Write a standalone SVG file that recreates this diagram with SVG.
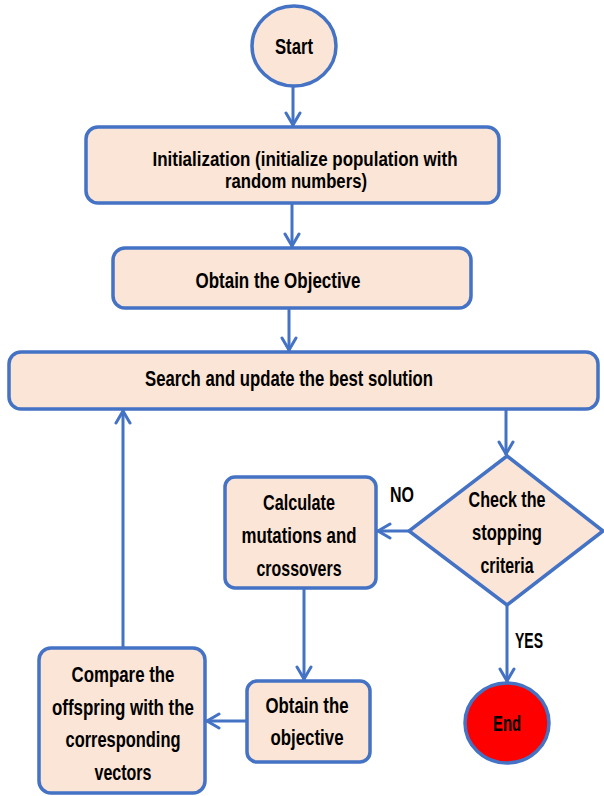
<svg xmlns="http://www.w3.org/2000/svg" width="604" height="796" viewBox="0 0 604 796">
<style>
.node{fill:#FBE5D6;stroke:#4472C4;stroke-width:3.5}
.end{fill:#FF0000;stroke:#4472C4;stroke-width:3.5}
.t{font-family:"Liberation Sans",Arial,sans-serif;font-weight:bold;font-size:22px;fill:#000;text-anchor:middle}
.s{font-size:20px}
.c{fill:none;stroke:#4472C4;stroke-width:3}
</style>
<defs>
<marker id="ah" viewBox="-16 -9 18 18" markerWidth="18" markerHeight="18" refX="0" refY="0" orient="auto" markerUnits="userSpaceOnUse">
<path d="M-13,-7 L-1,0 L-13,7" fill="none" stroke="#4472C4" stroke-width="3" stroke-linecap="round" stroke-linejoin="round"/>
</marker>
</defs>
<rect width="604" height="796" fill="#fff"/>
<g id="connectors">
<line class="c" x1="293" y1="86" x2="293" y2="126" marker-end="url(#ah)"/>
<line class="c" x1="292" y1="203" x2="292" y2="247" marker-end="url(#ah)"/>
<line class="c" x1="289" y1="308" x2="289" y2="351" marker-end="url(#ah)"/>
<line class="c" x1="506" y1="409" x2="506" y2="455" marker-end="url(#ah)"/>
<line class="c" x1="409" y1="531" x2="377" y2="531" marker-end="url(#ah)"/>
<line class="c" x1="304" y1="588" x2="304" y2="680" marker-end="url(#ah)"/>
<line class="c" x1="247" y1="721" x2="206" y2="721" marker-end="url(#ah)"/>
<line class="c" x1="123" y1="648" x2="123" y2="410" marker-end="url(#ah)"/>
<line class="c" x1="507" y1="605" x2="507" y2="682" marker-end="url(#ah)"/>
</g>
<g id="start">
<ellipse class="node" cx="294" cy="46" rx="42" ry="40"/>
<text class="t" x="294" y="54" textLength="38" lengthAdjust="spacingAndGlyphs">Start</text>
</g>
<g id="init">
<rect class="node" x="86" y="127" width="413" height="76" rx="12"/>
<text class="t s" x="305" y="166" textLength="305" lengthAdjust="spacingAndGlyphs">Initialization (initialize population with</text>
<text class="t s" x="296" y="188" textLength="142" lengthAdjust="spacingAndGlyphs">random numbers)</text>
</g>
<g id="obtain1">
<rect class="node" x="113" y="248" width="358" height="60" rx="12"/>
<text class="t" x="278" y="288" textLength="165" lengthAdjust="spacingAndGlyphs">Obtain the Objective</text>
</g>
<g id="search">
<rect class="node" x="9" y="352" width="589" height="57" rx="12"/>
<text class="t" x="289" y="386" textLength="288" lengthAdjust="spacingAndGlyphs">Search and update the best solution</text>
</g>
<g id="check">
<polygon class="node" points="507,456 603,531 507,605 409,531"/>
<text class="t" x="507" y="507" textLength="77" lengthAdjust="spacingAndGlyphs">Check the</text>
<text class="t" x="507" y="540" textLength="70" lengthAdjust="spacingAndGlyphs">stopping</text>
<text class="t" x="507" y="573" textLength="53" lengthAdjust="spacingAndGlyphs">criteria</text>
</g>
<g id="calc">
<rect class="node" x="225" y="477" width="151" height="111" rx="10"/>
<text class="t" x="299" y="510" textLength="72" lengthAdjust="spacingAndGlyphs">Calculate</text>
<text class="t" x="299" y="543" textLength="115" lengthAdjust="spacingAndGlyphs">mutations and</text>
<text class="t" x="299" y="576" textLength="85" lengthAdjust="spacingAndGlyphs">crossovers</text>
</g>
<g id="obtain2">
<rect class="node" x="247" y="681" width="123" height="81" rx="10"/>
<text class="t" x="307" y="713" textLength="83" lengthAdjust="spacingAndGlyphs">Obtain the</text>
<text class="t" x="307" y="745" textLength="73" lengthAdjust="spacingAndGlyphs">objective</text>
</g>
<g id="compare">
<rect class="node" x="39" y="648" width="166" height="145" rx="12"/>
<text class="t" x="123" y="682" textLength="103" lengthAdjust="spacingAndGlyphs">Compare the</text>
<text class="t" x="123" y="715" textLength="142" lengthAdjust="spacingAndGlyphs">offspring with the</text>
<text class="t" x="123" y="747" textLength="115" lengthAdjust="spacingAndGlyphs">corresponding</text>
<text class="t" x="123" y="780" textLength="57" lengthAdjust="spacingAndGlyphs">vectors</text>
</g>
<g id="end">
<ellipse class="end" cx="507" cy="723" rx="42" ry="40"/>
<text class="t" x="507" y="731" textLength="28" lengthAdjust="spacingAndGlyphs">End</text>
</g>
<g id="labels">
<text class="t" x="402" y="502" textLength="24" lengthAdjust="spacingAndGlyphs">NO</text>
<text class="t" x="529" y="648" textLength="28" lengthAdjust="spacingAndGlyphs">YES</text>
</g>
</svg>
